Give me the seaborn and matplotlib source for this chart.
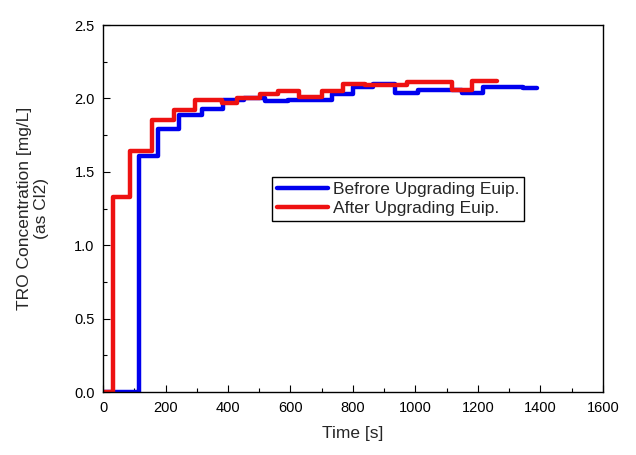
import matplotlib
matplotlib.use("Agg")
import matplotlib.pyplot as plt
from matplotlib.ticker import MultipleLocator
import seaborn as sns
import pandas as pd

# Data (step series)
before_t = [0, 116, 175, 243, 316, 385, 450, 518, 593, 732, 800, 865, 934, 1008, 1148, 1216, 1345, 1390]
before_y = [0.0, 1.61, 1.79, 1.89, 1.93, 1.99, 2.00, 1.98, 1.99, 2.03, 2.08, 2.10, 2.04, 2.06, 2.04, 2.08, 2.07, 2.07]
after_t = [0, 33, 86, 158, 227, 294, 380, 430, 502, 560, 627, 700, 768, 840, 972, 1116, 1180, 1260]
after_y = [0.0, 1.33, 1.64, 1.85, 1.92, 1.99, 1.97, 2.00, 2.03, 2.05, 2.01, 2.05, 2.10, 2.09, 2.11, 2.06, 2.12, 2.12]
labels = ["Befrore Upgrading Euip.", "After Upgrading Euip."]

sns.set_style("white")
plt.rcParams['font.family'] = ['Liberation Sans', 'DejaVu Sans']

df = pd.concat([
    pd.DataFrame({"t": before_t, "y": before_y, "s": labels[0]}),
    pd.DataFrame({"t": after_t, "y": after_y, "s": labels[1]}),
])

fig = plt.figure(figsize=(6.36, 4.55), dpi=100)
ax = fig.add_axes([0.162, 0.138, 0.786, 0.807])
sns.lineplot(data=df, x="t", y="y", hue="s", palette=["#0000ee", "#ee1111"],
             drawstyle="steps-post", linewidth=3.2, ax=ax, sort=False, estimator=None)

ax.set_xlim(0, 1600)
ax.set_ylim(0, 2.5)
ax.xaxis.set_major_locator(MultipleLocator(200))
ax.xaxis.set_minor_locator(MultipleLocator(100))
ax.yaxis.set_major_locator(MultipleLocator(0.5))
ax.yaxis.set_minor_locator(MultipleLocator(0.25))
ax.yaxis.set_major_formatter(matplotlib.ticker.FormatStrFormatter('%.1f'))
ax.tick_params(which='both', direction='in', bottom=True, left=True, top=False, right=False,
               colors='black', labelsize=10.5)
ax.tick_params(which='major', length=5, width=0.8, pad=6)
ax.tick_params(which='minor', length=3, width=0.8)
for sp in ax.spines.values():
    sp.set_color('black')
    sp.set_linewidth(1.0)

ax.set_xlabel("Time [s]", fontsize=12.5, labelpad=8)
ax.set_ylabel("TRO Concentration [mg/L]\n(as Cl2)", fontsize=12.5, labelpad=18)

leg = ax.legend(loc='upper left', bbox_to_anchor=(0.338, 0.586), fontsize=12.5,
                frameon=True, fancybox=False, edgecolor='black', framealpha=1,
                handlelength=2.9, handletextpad=0.3, borderpad=0.3, labelspacing=0.2,
                borderaxespad=0)
leg.get_frame().set_linewidth(1.0)

fig.savefig("out.png", dpi=100)
